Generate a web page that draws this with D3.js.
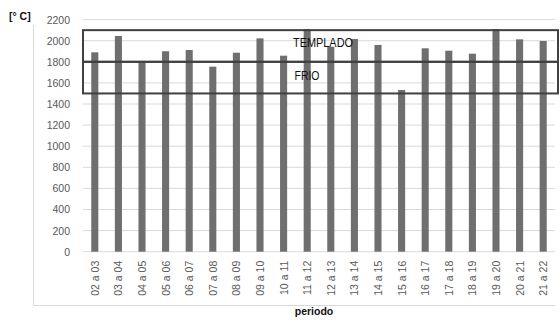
<!DOCTYPE html>
<html>
<head>
<meta charset="utf-8">
<script src="https://cdn.jsdelivr.net/npm/d3@7"></script>
<style>
  body { margin: 0; background: #fff; }
  svg { font-family: "Liberation Sans", Arial, sans-serif; }
</style>
</head>
<body>
<svg id="chart" width="560" height="322"></svg>
<script>
let periods = ["02 a 03", "03 a 04", "04 a 05", "05 a 06", "06 a 07", "07 a 08", "08 a 09",
    "09 a 10", "10 a 11", "11 a 12", "12 a 13", "13 a 14", "14 a 15", "15 a 16", "16 a 17",
    "17 a 18", "18 a 19", "19 a 20", "20 a 21", "21 a 22"];
let temps = [1890, 2045, 1790, 1900, 1912, 1754, 1886, 2022, 1858, 2110, 1943, 2016,
    1960, 1533, 1928, 1905, 1877, 2110, 2013, 1997];
let yTicks = [0, 200, 400, 600, 800, 1000, 1200, 1400, 1600, 1800, 2000, 2200];
let zones = [
    { name: "TEMPLADO", lo: 1800, hi: 2100 },
    { name: "FRIO", lo: 1500, hi: 1800 }
];

function render() {
    let svg = d3.select("#chart");
    let margin = { top: 19.6, left: 83, right: 5, bottom: 70 };
    let width = 560 - margin.left - margin.right;
    let height = 251.7 - margin.top;

    let xScale = d3.scaleBand().domain(periods).range([0, width]).paddingInner(0.7).paddingOuter(0.35);
    let yScale = d3.scaleLinear().domain([0, 2200]).range([height, 0]);

    // outer chart frame (left + bottom)
    svg.append("path")
        .attr("d", "M33.5,25V305.5H555")
        .attr("fill", "none")
        .attr("stroke", "#d9d9d9")
        .attr("stroke-width", 1);

    let g = svg.append("g")
        .attr("transform", "translate(" + margin.left + "," + margin.top + ")");

    g.selectAll(".grid")
        .data(yTicks)
        .enter()
        .append("line")
        .attr("x1", 0)
        .attr("x2", width)
        .attr("y1", d => yScale(d))
        .attr("y2", d => yScale(d))
        .attr("stroke", "#d9d9d9")
        .attr("stroke-width", 1);

    g.selectAll(".ylab")
        .data(yTicks)
        .enter()
        .append("text")
        .attr("x", -13)
        .attr("y", d => yScale(d) + 4)
        .attr("text-anchor", "end")
        .attr("font-size", "10.5px")
        .attr("fill", "#595959")
        .text(d => d);

    g.selectAll(".bar")
        .data(temps)
        .enter()
        .append("rect")
        .attr("x", (d, i) => xScale(periods[i]))
        .attr("width", xScale.bandwidth())
        .attr("y", d => yScale(d))
        .attr("height", d => height - yScale(d))
        .attr("fill", "#6f6f6f");

    g.selectAll(".xlab")
        .data(periods)
        .enter()
        .append("text")
        .attr("transform", d => "translate(" + (xScale(d) + xScale.bandwidth() / 2 + 4) + "," + (height + 9) + ") rotate(-90)")
        .attr("text-anchor", "end")
        .attr("font-size", "10.5px")
        .attr("fill", "#595959")
        .text(d => d);

    g.selectAll(".zone")
        .data(zones)
        .enter()
        .append("rect")
        .attr("x", 0)
        .attr("width", width + 3)
        .attr("y", d => yScale(d.hi))
        .attr("height", d => yScale(d.lo) - yScale(d.hi))
        .attr("fill", "none")
        .attr("stroke", "#404040")
        .attr("stroke-width", 2);

    g.selectAll(".zlab")
        .data(zones)
        .enter()
        .append("text")
        .attr("x", (d, i) => i == 0 ? 240 : 224)
        .attr("y", (d, i) => yScale(d.hi) + (i == 0 ? 17 : 18))
        .attr("text-anchor", "middle")
        .attr("font-size", "12px")
        .attr("fill", "#111")
        .attr("textLength", (d, i) => i == 0 ? 60 : 25)
        .attr("lengthAdjust", "spacingAndGlyphs")
        .text(d => d.name);

    svg.append("text")
        .attr("x", 9)
        .attr("y", 20)
        .attr("font-size", "10.5px")
        .attr("font-weight", "bold")
        .attr("fill", "#111")
        .text("[° C]");

    svg.append("text")
        .attr("x", 314)
        .attr("y", 315)
        .attr("text-anchor", "middle")
        .attr("font-size", "10.5px")
        .attr("font-weight", "bold")
        .attr("fill", "#111")
        .text("periodo");
}

render();
</script>
</body>
</html>
